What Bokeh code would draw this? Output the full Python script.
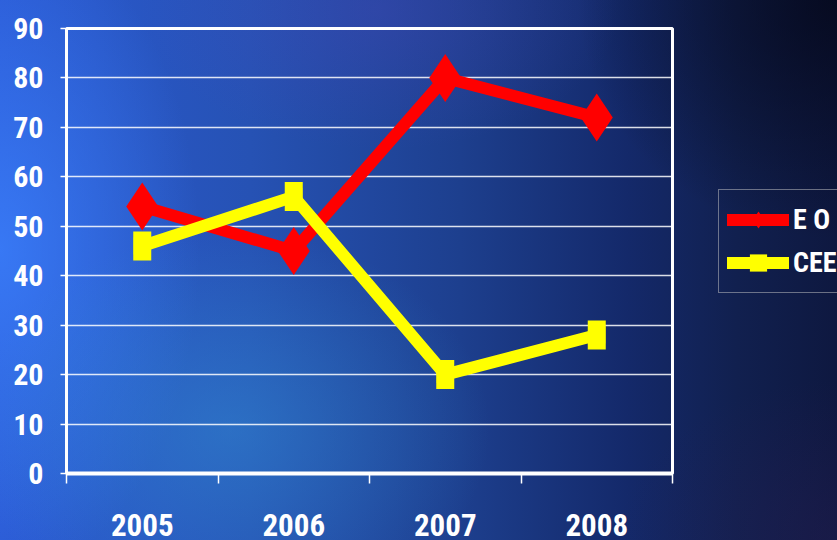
from bokeh.plotting import figure
from bokeh.layouts import row
from bokeh.models import FixedTicker, Legend, LegendItem, Range1d
from bokeh.embed import file_html
from bokeh.resources import INLINE

# ---- data ----
years = ["2005", "2006", "2007", "2008"]
eo_values = [54, 45, 80, 72]
cee_values = [46, 56, 20, 28]
series_names = ["E O", "CEE"]
y_ticks = [0, 10, 20, 30, 40, 50, 60, 70, 80, 90]

FONT = "Roboto Condensed"
RED = "#ff0000"
YELLOW = "#ffff00"

xs = list(range(len(years)))

p = figure(width=677, height=540, output_backend="svg", toolbar_location=None,
           x_range=Range1d(-0.5, len(years) - 0.5), y_range=Range1d(0, 90),
           min_border_left=66, min_border_right=5, min_border_top=28,
           min_border_bottom=67)
p.border_fill_alpha = 0
p.background_fill_alpha = 0

p.outline_line_color = "white"
p.outline_line_width = 3
p.outline_line_alpha = 1

# grid
p.xgrid.visible = False
p.ygrid.ticker = FixedTicker(ticks=y_ticks)
p.ygrid.grid_line_color = "white"
p.ygrid.grid_line_alpha = 0.85
p.ygrid.grid_line_width = 1.5

# y axis
yax = p.yaxis[0]
yax.ticker = FixedTicker(ticks=y_ticks)
yax.axis_line_color = "white"
yax.axis_line_width = 3
yax.major_tick_line_color = "white"
yax.major_tick_line_width = 1.5
yax.major_tick_out = 6
yax.major_tick_in = 0
yax.minor_tick_line_color = None
yax.major_label_standoff = 17
yax.major_label_text_color = "white"
yax.major_label_text_font = FONT
yax.major_label_text_font_style = "bold"
yax.major_label_text_font_size = "30px"

# x axis
xax = p.xaxis[0]
xax.ticker = FixedTicker(ticks=xs, minor_ticks=[i - 0.5 for i in range(len(years) + 1)])
xax.major_label_overrides = {i: y for i, y in zip(xs, years)}
xax.axis_line_color = "white"
xax.axis_line_width = 4
xax.major_tick_out = 0
xax.major_tick_in = 0
xax.major_tick_line_color = None
xax.minor_tick_line_color = "white"
xax.minor_tick_line_width = 1.5
xax.minor_tick_out = 10
xax.minor_tick_in = 0
xax.major_label_standoff = 30
xax.major_label_text_color = "white"
xax.major_label_text_font = FONT
xax.major_label_text_font_style = "bold"
xax.major_label_text_font_size = "31px"


def draw_series(fig, with_rect):
    eo_line = fig.line(xs, eo_values, line_color=RED, line_width=12, line_join="round", line_cap="round")
    eo_mark = fig.scatter(xs, eo_values, marker="diamond", size=48, fill_color=RED, line_color=None)
    cee_line = fig.line(xs, cee_values, line_color=YELLOW, line_width=12, line_join="round", line_cap="round")
    cee_mark = fig.scatter(xs, cee_values, marker="square", size=17, fill_color=YELLOW, line_color=None)
    if with_rect:
        fig.rect(xs, cee_values, width=18, height=29, width_units="screen", height_units="screen",
                 fill_color=YELLOW, line_color=None)
    return eo_line, eo_mark, cee_line, cee_mark


draw_series(p, True)

# legend panel (separate figure to the right of the plot; its glyphs lie outside its view)
p2 = figure(width=160, height=540, output_backend="svg", toolbar_location=None,
            x_range=Range1d(100, 101), y_range=Range1d(100, 101),
            x_axis_type=None, y_axis_type=None, min_border=0)
p2.border_fill_alpha = 0
p2.background_fill_alpha = 0
p2.outline_line_color = None
p2.xgrid.visible = False
p2.ygrid.visible = False
l_eo_line, l_eo_mark, l_cee_line, l_cee_mark = draw_series(p2, False)

legend = Legend(items=[LegendItem(label=series_names[0], renderers=[l_eo_line, l_eo_mark]),
                       LegendItem(label=series_names[1], renderers=[l_cee_line, l_cee_mark])],
                location=(41, 180))
legend.background_fill_alpha = 0
legend.border_line_color = "#c8c8c8"
legend.border_line_width = 1.5
legend.glyph_width = 62
legend.glyph_height = 43
legend.label_standoff = 4
legend.padding = 8
legend.spacing = 0
legend.margin = 0
legend.label_text_color = "white"
legend.label_text_font = FONT
legend.label_text_font_style = "bold"
legend.label_text_font_size = "28px"
p2.add_layout(legend, "center")

layout = row(p, p2, spacing=0)
layout.styles = {
    "background": (
        "radial-gradient(ellipse 260px 240px at 837px 0px, rgba(4,6,22,0.75), rgba(4,6,22,0) 100%),"
        "radial-gradient(ellipse 260px 200px at 230px 430px, rgba(50,140,210,0.5), rgba(50,140,210,0) 100%),"
        "radial-gradient(ellipse 200px 330px at 0px 250px, rgba(60,130,255,0.75), rgba(60,130,255,0) 100%),"
        "radial-gradient(ellipse 240px 140px at 380px 10px, rgba(80,70,190,0.3), rgba(80,70,190,0) 100%),"
        "radial-gradient(ellipse 220px 160px at 837px 540px, rgba(45,30,85,0.35), rgba(45,30,85,0) 100%),"
        "linear-gradient(90deg, #2b5ad4 0%, #2652b4 30%, #1d3f8e 55%, #14296a 75%, #11204f 88%, #0e1840 100%)"
    ),
    "width": "837px",
    "height": "540px",
}

open("out.html", "w").write(file_html(layout, INLINE))
